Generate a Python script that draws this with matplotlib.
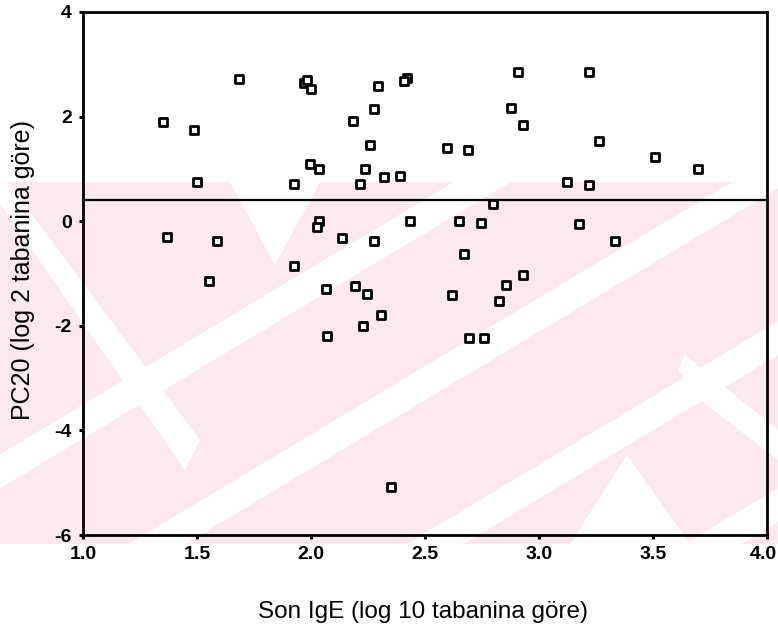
import matplotlib
matplotlib.use("Agg")
import matplotlib.pyplot as plt
import matplotlib.transforms as mtransforms
from matplotlib.patches import Polygon, Rectangle

# ---- data ----
son_ige = [1.350, 1.488, 1.499, 1.684, 1.969, 1.982, 2.000, 1.925, 1.996, 2.033,
           2.296, 2.275, 2.185, 2.257, 2.238, 2.216, 2.322, 2.390, 2.420, 2.408,
           2.907, 3.219, 2.876, 2.931, 2.595, 2.687, 3.264, 3.509, 3.699, 3.123,
           3.221,
           1.367, 1.589, 1.551, 1.925, 2.036, 2.025, 2.137, 2.276, 2.064, 2.194,
           2.247, 2.306, 2.229, 2.070, 2.352, 2.800, 2.436, 2.648, 2.746, 3.174,
           3.333, 2.671, 2.931, 2.855, 2.618, 2.825, 2.692, 2.757]
pc20 = [1.89, 1.74, 0.75, 2.71, 2.64, 2.70, 2.52, 0.72, 1.09, 1.00,
        2.59, 2.15, 1.92, 1.45, 0.99, 0.72, 0.85, 0.86, 2.74, 2.69,
        2.86, 2.86, 2.16, 1.83, 1.40, 1.36, 1.53, 1.23, 1.00, 0.74,
        0.70,
        -0.30, -0.37, -1.14, -0.86, 0.01, -0.12, -0.33, -0.37, -1.30, -1.23,
        -1.39, -1.79, -2.00, -2.20, -5.08, 0.33, 0.01, 0.00, -0.03, -0.06,
        -0.38, -0.63, -1.02, -1.22, -1.42, -1.53, -2.23, -2.23]
ref_line = 0.4
x_ticks = [1.0, 1.5, 2.0, 2.5, 3.0, 3.5, 4.0]
x_ticklabels = ["1.0", "1.5", "2.0", "2.5", "3.0", "3.5", "4.0"]
y_ticks = [-6, -4, -2, 0, 2, 4]
y_ticklabels = ["-6", "-4", "-2", "0", "2", "4"]
x_label = "Son IgE (log 10 tabanina göre)"
y_label = "PC20 (log 2 tabanina göre)"

W, H = 778, 632
fig = plt.figure(figsize=(W / 100, H / 100), dpi=100)
fig.patch.set_facecolor("white")

def fp(x, y):
    return (x / W, 1 - y / H)

# ---- background watermark (decoration) ----
pink = "#fce9ed"
band = Rectangle(fp(0, 544), 1, (544 - 182) / H, transform=fig.transFigure,
                 facecolor=pink, edgecolor="none", zorder=0)
fig.patches.append(band)

def stripe(x0, y0, x1, y1, t):
    pts = [fp(x0, y0 - t / 2), fp(x1, y1 - t / 2), fp(x1, y1 + t / 2), fp(x0, y0 + t / 2)]
    p = Polygon(pts, closed=True, transform=fig.transFigure, facecolor="white",
                edgecolor="none", zorder=0.1)
    p.set_clip_path(band)
    fig.patches.append(p)

def poly(pts_px):
    p = Polygon([fp(*q) for q in pts_px], closed=True, transform=fig.transFigure,
                facecolor="white", edgecolor="none", zorder=0.1)
    p.set_clip_path(band)
    fig.patches.append(p)

# "/" white stripes
for xb in (-121, 157, 435, 713):
    stripe(xb - 200, 544 + 120, xb + 800, 544 - 480, 34)
# "\" white stripe on the left, with a pointed end
poly([(-20, 145), (-20, 175), (185, 470), (200, 440)])
# V notch at top
poly([(230, 182), (320, 182), (275, 265)])
# triangle at bottom right
poly([(570, 544), (627, 455), (690, 544)])
# "\" white stripe on the right, pointed end
poly([(685, 355), (778, 430), (778, 460), (700, 400), (678, 370)])

# ---- axes ----
ax = fig.add_axes([83 / W, 1 - 535 / H, (767 - 83) / W, (535 - 12) / H])
ax.set_zorder(5)
ax.set_facecolor("none")
ax.scatter(son_ige, pc20, marker="s", s=5.4 ** 2, facecolors="white",
           edgecolors="black", linewidths=2.0, zorder=3)
ax.axhline(ref_line, color="black", linewidth=1.6, zorder=2)

ax.set_xlim(1.0, 4.0)
ax.set_ylim(-6, 4)
ax.set_xticks(x_ticks)
ax.set_xticklabels(x_ticklabels, fontsize=14, fontweight="bold", family="Liberation Sans")
ax.set_yticks(y_ticks)
ax.set_yticklabels(y_ticklabels, fontsize=14, fontweight="bold", family="Liberation Sans")
ax.tick_params(direction="out", length=3, width=2.2, pad=5, colors="black")
for sp in ax.spines.values():
    sp.set_linewidth(2.0)
    sp.set_color("black")

# nudge the last x tick label so it stays inside the picture
last = ax.get_xticklabels()[-1]
last.set_transform(last.get_transform() +
                   mtransforms.ScaledTranslation(-4 / 100, 0, fig.dpi_scale_trans))

fig.text(*fp(423, 612), x_label, ha="center", va="center",
         fontsize=17.5, family="Liberation Sans", zorder=6)
fig.text(*fp(23, 270), y_label, ha="center", va="center",
         rotation=90, fontsize=18, family="Liberation Sans", zorder=6)

fig.savefig("out.png", dpi=100)
